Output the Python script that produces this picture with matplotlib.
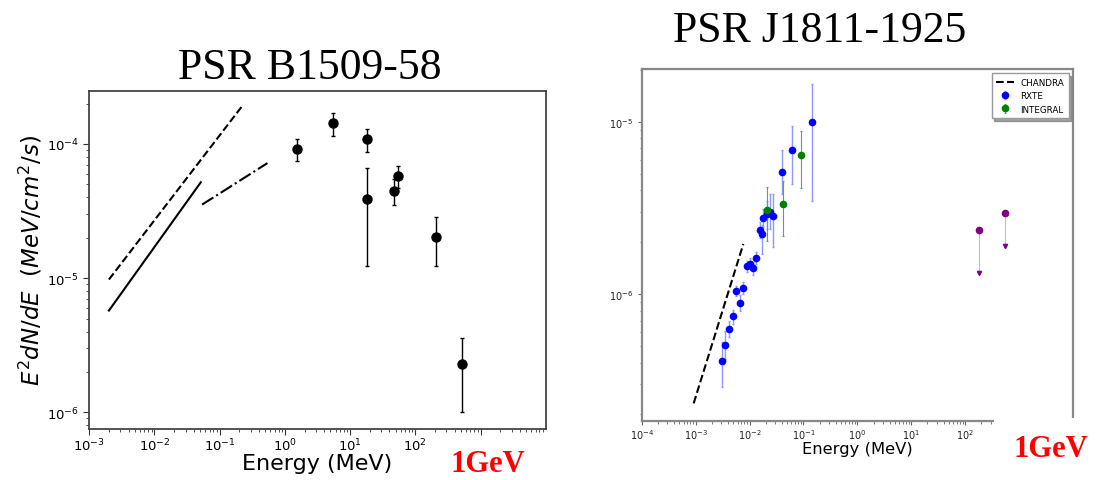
""" two pulsar SEDs side by side: PSR B1509-58 and PSR J1811-1925 """

import numpy as np
import matplotlib
matplotlib.use('Agg')
import matplotlib.pyplot as plt
from matplotlib.patches import Rectangle

# ========================
# PSR B1509-58 data
# ========================
b_dash_e = [2.0e-3, 0.22]
b_dash_f = [9.76e-6, 1.91e-4]
b_solid_e = [2.0e-3, 0.0513]
b_solid_f = [5.73e-6, 5.18e-5]
b_dashdot_e = [0.0537, 0.54]
b_dashdot_f = [3.53e-5, 7.2e-5]

b_e = [1.55, 5.5, 18.0, 18.0, 47.0, 55.0, 210.0, 525.0]
b_f = [9.1e-5, 1.43e-4, 1.08e-4, 3.9e-5, 4.46e-5, 5.77e-5, 2.03e-5, 2.29e-6]
b_f_hi = [1.08e-4, 1.7e-4, 1.29e-4, 6.6e-5, 5.5e-5, 6.8e-5, 2.84e-5, 3.6e-6]
b_f_lo = [7.5e-5, 1.15e-4, 8.7e-5, 1.24e-5, 3.5e-5, 4.7e-5, 1.24e-5, 1.0e-6]

# ========================
# PSR J1811-1925 data
# ========================
chandra_e = [9.2e-4, 7.67e-3]
chandra_f = [2.32e-7, 1.95e-6]

rxte_e = [3.05e-3, 3.47e-3, 4.1e-3, 4.87e-3, 5.7e-3, 6.58e-3, 7.58e-3, 8.87e-3,
          1.02e-2, 1.16e-2, 1.34e-2, 1.55e-2, 1.73e-2, 1.78e-2, 2.08e-2, 2.4e-2,
          2.69e-2, 3.95e-2, 6.07e-2, 0.146]
rxte_f = [4.08e-7, 5.06e-7, 6.26e-7, 7.42e-7, 1.04e-6, 8.9e-7, 1.08e-6, 1.46e-6,
          1.49e-6, 1.42e-6, 1.62e-6, 2.35e-6, 2.24e-6, 2.75e-6, 2.91e-6, 2.98e-6,
          2.85e-6, 5.13e-6, 6.88e-6, 1.0e-5]
rxte_hi = [5.25e-7, 6.1e-7, 7.0e-7, 8.1e-7, 1.12e-6, 9.8e-7, 1.18e-6, 1.56e-6,
           1.61e-6, 1.53e-6, 1.76e-6, 2.6e-6, 2.5e-6, 3.1e-6, 3.45e-6, 3.8e-6,
           3.8e-6, 6.85e-6, 9.4e-6, 1.65e-5]
rxte_lo = [2.9e-7, 4.2e-7, 5.6e-7, 6.7e-7, 9.7e-7, 8.0e-7, 1.0e-6, 1.35e-6,
           1.4e-6, 1.29e-6, 1.49e-6, 2.1e-6, 1.71e-6, 2.44e-6, 2.38e-6, 2.38e-6,
           1.88e-6, 3.8e-6, 4.36e-6, 3.48e-6]

integral_e = [2.14e-2, 4.24e-2, 9.0e-2]
integral_f = [3.08e-6, 3.34e-6, 6.43e-6]
integral_hi = [4.16e-6, 4.5e-6, 8.8e-6]
integral_lo = [2.04e-6, 2.16e-6, 4.1e-6]

ul_e = [179.0, 557.0]
ul_f = [2.34e-6, 2.94e-6]
ul_lo = [1.32e-6, 1.9e-6]

W, H = 1103, 481


def fx(px):
    return px / W


def fy(py):
    return 1 - py / H


fig = plt.figure(figsize=(W / 100, H / 100), dpi=100)

# =====================
# left panel
# =====================
ax1 = fig.add_axes([fx(89.3), fy(429.6), fx(545.7 - 89.3), (429.6 - 92) / H])
ax1.plot(b_dash_e, b_dash_f, color='black', linestyle='--', linewidth=1.5)
ax1.plot(b_solid_e, b_solid_f, color='black', linestyle='-', linewidth=1.5)
ax1.plot(b_dashdot_e, b_dashdot_f, color='black', linestyle='-.', linewidth=1.5)
b_f_arr = np.array(b_f)
b_yerr = [b_f_arr - np.array(b_f_lo), np.array(b_f_hi) - b_f_arr]
ax1.errorbar(b_e, b_f, yerr=b_yerr, fmt='o', color='black', ecolor='black',
             markersize=6.5, elinewidth=1, capsize=1.5, capthick=1)
ax1.set_xscale('log')
ax1.set_yscale('log')
ax1.set_xlim(1e-3, 1e4)
ax1.set_ylim(7.56e-7, 2.48e-4)
ax1.set_xticks([1e-3, 1e-2, 1e-1, 1e0, 1e1, 1e2, 1e3])
ax1.set_xticklabels(['$10^{-3}$', '$10^{-2}$', '$10^{-1}$', '$10^{0}$',
                     '$10^{1}$', '$10^{2}$', ''])
ax1.xaxis.set_minor_locator(matplotlib.ticker.LogLocator(base=10, subs=np.arange(2, 10), numticks=20))
ax1.xaxis.set_minor_formatter(matplotlib.ticker.NullFormatter())
ax1.tick_params(which='major', labelsize=9.5, length=4, color='#333333')
ax1.tick_params(axis='x', which='major', pad=1.5)
ax1.tick_params(which='minor', length=2, color='#333333')
for sp in ax1.spines.values():
    sp.set_color('#444444')
    sp.set_linewidth(1.3)
ax1.set_xlabel('Energy (MeV)', fontsize=16, labelpad=0)
ax1.set_ylabel('$E^2dN/dE$  $(MeV/cm^2/s)$', fontsize=16.5, labelpad=2)

# =====================
# right panel
# =====================
ax2 = fig.add_axes([fx(641.7), fy(421.7), fx(1073 - 641.7), (421.7 - 70) / H])
ax2.plot(chandra_e, chandra_f, color='black', linestyle='--', linewidth=1.5, label='CHANDRA')
rxte_arr = np.array(rxte_f)
ax2.errorbar(rxte_e, rxte_f, yerr=[rxte_arr - np.array(rxte_lo), np.array(rxte_hi) - rxte_arr],
             fmt='o', color='blue', ecolor=(0.55, 0.6, 1.0), markersize=4.5,
             elinewidth=1, capsize=1, capthick=1, label='RXTE')
int_arr = np.array(integral_f)
ax2.errorbar(integral_e, integral_f, yerr=[int_arr - np.array(integral_lo), np.array(integral_hi) - int_arr],
             fmt='o', color='green', ecolor=(0.35, 0.65, 0.35), markersize=4.5,
             elinewidth=0.8, capsize=1, capthick=0.8, label='INTEGRAL')
ul_arr = np.array(ul_f)
ax2.errorbar(ul_e, ul_f, yerr=[ul_arr - np.array(ul_lo), np.zeros(len(ul_f))],
             fmt='o', color='purple', ecolor=(0.85, 0.68, 0.85), markersize=4.5,
             elinewidth=0.8, capsize=0)
ax2.plot(ul_e, ul_lo, linestyle='none', marker='v', color='purple', markersize=3)
ax2.set_xscale('log')
ax2.set_yscale('log')
ax2.set_xlim(1e-4, 1e4)
ax2.set_ylim(1.84e-7, 2.02e-5)
ax2.set_xticks([1e-4, 1e-3, 1e-2, 1e-1, 1e0, 1e1, 1e2])
ax2.set_xticklabels(['$10^{-4}$', '$10^{-3}$', '$10^{-2}$', '$10^{-1}$',
                     '$10^{0}$', '$10^{1}$', '$10^{2}$'])
ax2.xaxis.set_minor_locator(matplotlib.ticker.LogLocator(base=10, subs=np.arange(2, 10), numticks=20))
ax2.xaxis.set_minor_formatter(matplotlib.ticker.NullFormatter())
ax2.yaxis.set_minor_formatter(matplotlib.ticker.NullFormatter())
ax2.tick_params(which='major', labelsize=7, length=3, color='#666666', labelcolor='#222222')
ax2.tick_params(axis='x', which='major', pad=1.5)
ax2.tick_params(which='minor', length=1.8, color='#666666')
for sp in ax2.spines.values():
    sp.set_color('#888888')
    sp.set_linewidth(1.6)
ax2.set_xlabel('Energy (MeV)', fontsize=11.8, labelpad=0)
ax2.legend(loc='upper right', fontsize=6.3, shadow=True, fancybox=False,
           framealpha=1, borderpad=0.5, handlelength=2, edgecolor='#999999')

# white cover over the cut off end of the bottom axis
fig.patches.append(Rectangle((fx(994), fy(445)), fx(1085 - 994), (445 - 419) / H,
                             transform=fig.transFigure, facecolor='white',
                             edgecolor='none', zorder=10))

# =====================
# slide text
# =====================
fig.text(fx(310), fy(79.3), 'PSR B1509-58', fontsize=31.5, family='Liberation Serif',
         ha='center', va='baseline')
fig.text(fx(820), fy(41.7), 'PSR J1811-1925', fontsize=31.5, family='Liberation Serif',
         ha='center', va='baseline')
fig.text(fx(487.5), fy(465), '1GeV', fontsize=22, family='Liberation Serif',
         fontweight='bold', color='red', ha='center', va='center', zorder=11)
fig.text(fx(1051), fy(449.5), '1GeV', fontsize=22, family='Liberation Serif',
         fontweight='bold', color='red', ha='center', va='center', zorder=11)

plt.savefig('out.png', dpi=100)
plt.close()
